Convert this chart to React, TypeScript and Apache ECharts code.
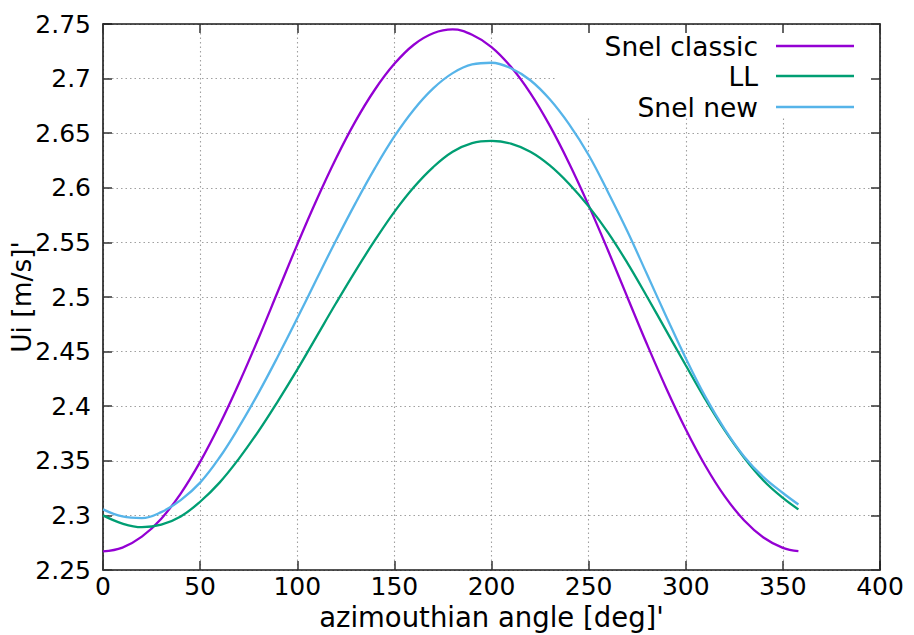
import React, { useEffect, useRef } from "react";
import * as echarts from "echarts";

const angles = [0, 10, 20, 30, 40, 50, 60, 70, 80, 90, 100, 110, 120, 130, 140, 150, 160, 170, 180, 190, 200, 210, 220, 230, 240, 250, 260, 270, 280, 290, 300, 310, 320, 330, 340, 350, 358];

const snelClassic = [2.267, 2.2705, 2.2805, 2.297, 2.32, 2.349, 2.383, 2.421, 2.462, 2.505, 2.548, 2.589, 2.627, 2.661, 2.69, 2.7135, 2.731, 2.7415, 2.745, 2.7402, 2.7289, 2.7108, 2.6867, 2.6569, 2.6223, 2.5839, 2.5426, 2.4996, 2.4569, 2.4163, 2.3789, 2.3457, 2.3176, 2.2956, 2.2798, 2.2703, 2.2672];

const ll = [2.3, 2.2925, 2.2892, 2.2915, 2.299, 2.3125, 2.33, 2.352, 2.377, 2.4045, 2.4335, 2.464, 2.4945, 2.524, 2.552, 2.578, 2.6005, 2.619, 2.633, 2.641, 2.643, 2.6405, 2.633, 2.6205, 2.6035, 2.583, 2.559, 2.531, 2.5005, 2.469, 2.4375, 2.4065, 2.378, 2.353, 2.332, 2.316, 2.3055];

const snelNew = [2.3055, 2.299, 2.2975, 2.303, 2.314, 2.33, 2.353, 2.381, 2.412, 2.4455, 2.4805, 2.5165, 2.552, 2.586, 2.618, 2.647, 2.6715, 2.691, 2.705, 2.713, 2.7145, 2.7095, 2.6985, 2.681, 2.658, 2.63, 2.596, 2.56, 2.521, 2.482, 2.444, 2.409, 2.379, 2.354, 2.335, 2.3205, 2.31];

const seriesNames = ["Snel classic", "LL", "Snel new"];
const seriesColors = ["#9400d3", "#009e73", "#56b4e9"];
const seriesValues = [snelClassic, ll, snelNew];

const xTitle = "azimouthian angle [deg]'";
const yTitle = "Ui [m/s]'";

const FONT = "DejaVu Sans";

export default function App() {
  const ref = useRef<HTMLDivElement>(null);
  useEffect(() => {
    if (!ref.current) return;
    const chart = echarts.init(ref.current, undefined, { renderer: "svg" });
    const gridLeft = 103, gridTop = 24, gridW = 777, gridH = 546;
    const borderStyle = { color: "#1a1a1a", width: 1.6 };
    const tickStyle = { color: "#333", width: 1.5 };
    const splitStyle = { color: "#a0a0a0", type: [1.5, 3] as any, width: 1.1 };
    const legendRows = [46, 76, 107];
    const option: any = {
      animation: false,
      backgroundColor: "#fff",
      grid: {
        left: gridLeft, top: gridTop, width: gridW, height: gridH,
        containLabel: false, outerBoundsMode: "none",
      },
      xAxis: [
        {
          type: "value", position: "bottom", min: 0, max: 400, interval: 50, z: 0,
          axisLine: { show: true, onZero: false, lineStyle: borderStyle },
          axisTick: { show: true, inside: true, length: 9, lineStyle: tickStyle },
          axisLabel: { fontSize: 25, lineHeight: 20, color: "#000", margin: 6, fontFamily: FONT },
          splitLine: { show: true, lineStyle: splitStyle },
          name: xTitle, nameLocation: "middle", nameGap: 37, nameMoveOverlap: false,
          nameTextStyle: { fontSize: 27.5, lineHeight: 20, color: "#000", fontFamily: FONT },
        },
        {
          type: "value", position: "top", min: 0, max: 400, interval: 50, z: 3,
          axisLine: { show: true, onZero: false, lineStyle: borderStyle },
          axisTick: { show: true, inside: true, length: 9, lineStyle: tickStyle },
          axisLabel: { show: false },
          splitLine: { show: false },
        },
      ],
      yAxis: [
        {
          type: "value", position: "left", min: 2.25, max: 2.75, interval: 0.05, z: 0,
          axisLine: { show: true, onZero: false, lineStyle: borderStyle },
          axisTick: { show: true, inside: true, length: 9, lineStyle: tickStyle },
          axisLabel: {
            fontSize: 25, color: "#000", margin: 12, fontFamily: FONT,
            formatter: (v: number) => String(parseFloat(v.toFixed(2))),
          },
          splitLine: { show: true, lineStyle: splitStyle },
          name: yTitle, nameLocation: "middle", nameGap: 68, nameMoveOverlap: false,
          nameTextStyle: { fontSize: 26.5, color: "#000", fontFamily: FONT },
        },
        {
          type: "value", position: "right", min: 2.25, max: 2.75, interval: 0.05, z: 3,
          axisLine: { show: true, onZero: false, lineStyle: borderStyle },
          axisTick: { show: true, inside: true, length: 9, lineStyle: tickStyle },
          axisLabel: { show: false },
          splitLine: { show: false },
        },
      ],
      graphic: [
        {
          type: "rect", z: 1,
          shape: { x: 556, y: 26, width: 322, height: 92 },
          style: { fill: "#ffffff" },
        },
      ],
      legend: seriesNames.map((n, i) => ({
        data: [n],
        orient: "horizontal",
        align: "right",
        right: 914 - 854,
        top: legendRows[i] - 14,
        padding: 0,
        icon: "rect",
        itemWidth: 78,
        itemHeight: 2.5,
        z: 4,
        selectedMode: false,
        textStyle: { fontSize: 26.5, color: "#000", fontFamily: FONT, lineHeight: 28, padding: [0, 13, 0, 0] },
      })),
      series: seriesNames.map((n, i) => ({
        name: n,
        type: "line",
        xAxisIndex: 0,
        yAxisIndex: 0,
        symbol: "none",
        smooth: 0.4,
        z: 2,
        color: seriesColors[i],
        lineStyle: { color: seriesColors[i], width: 2.3 },
        data: angles.map((a, j) => [a, seriesValues[i][j]]),
      })),
    };
    chart.setOption(option);
    return () => chart.dispose();
  }, []);
  return (
    <div
      ref={ref}
      style={{ position: "fixed", left: 0, top: 0, width: 914, height: 635, background: "#fff" }}
    />
  );
}
